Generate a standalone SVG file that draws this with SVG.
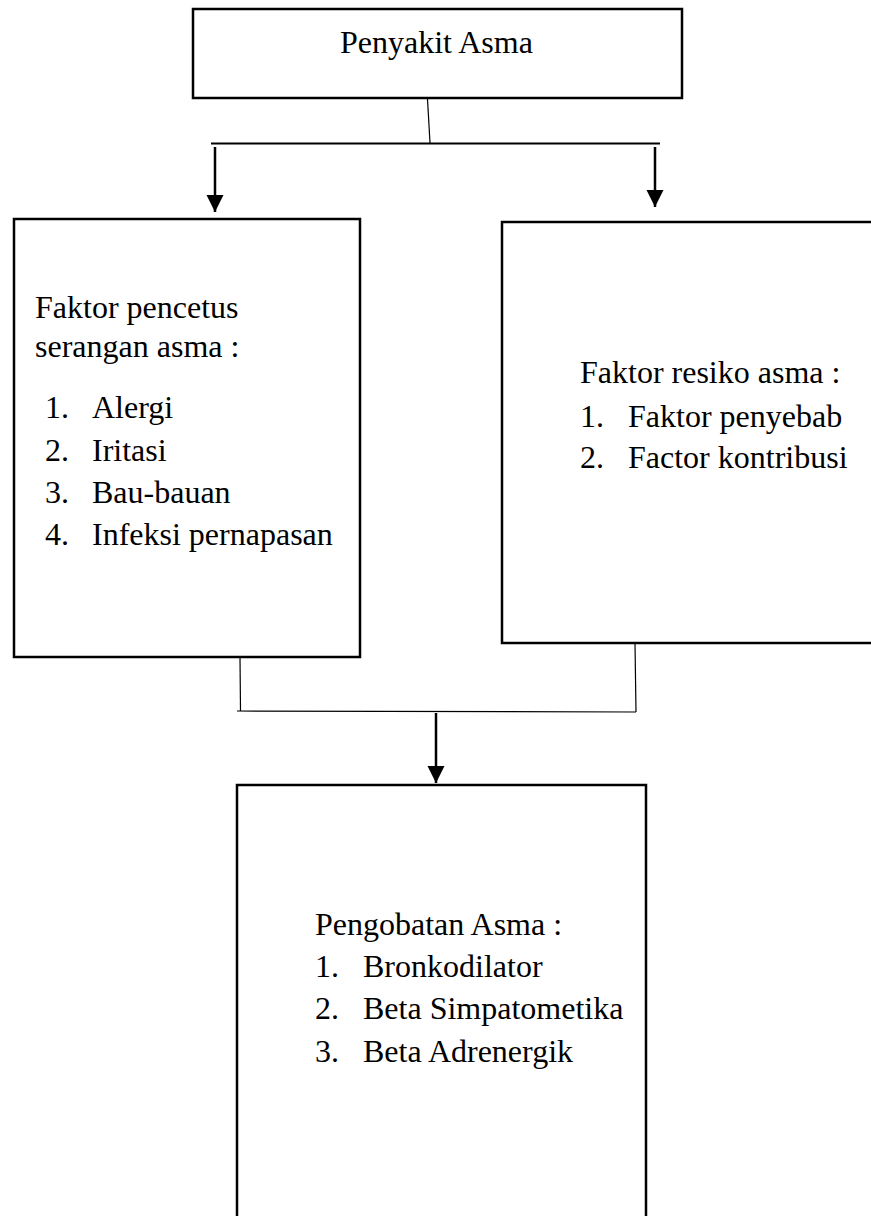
<svg xmlns="http://www.w3.org/2000/svg" width="871" height="1216" viewBox="0 0 871 1216">
<style>
.box{fill:#fff;stroke:#000;stroke-width:2.5}
.t{font-family:"Liberation Serif","Times New Roman",serif;font-size:32px;fill:#000}
.thin{stroke:#000;stroke-width:1.2;fill:none}
.arr{stroke:#000;stroke-width:2.5;fill:none;marker-end:url(#ah)}
</style>
<defs>
<marker id="ah" markerUnits="userSpaceOnUse" markerWidth="18" markerHeight="18" refX="17" refY="8.5" orient="auto" viewBox="0 0 18 18">
<path d="M0,0 L17,8.5 L0,17 z" fill="#000"/>
</marker>
</defs>
<rect width="871" height="1216" fill="#fff"/>
<g id="connectors">
<line class="thin" x1="427.5" y1="99" x2="430" y2="143"/>
<line x1="211" y1="143.5" x2="660" y2="143.5" stroke="#000" stroke-width="2"/>
<line class="arr" x1="215" y1="147" x2="215" y2="212"/>
<line class="arr" x1="655" y1="147" x2="655" y2="207"/>
<line class="thin" x1="240" y1="657" x2="240.5" y2="711"/>
<line class="thin" x1="635" y1="643" x2="636" y2="712"/>
<line class="thin" x1="237" y1="711" x2="636" y2="712"/>
<line class="arr" x1="436" y1="713" x2="436" y2="783"/>
</g>
<g id="node-penyakit">
<rect class="box" x="193" y="9" width="489" height="89"/>
<text class="t" x="340" y="53">Penyakit Asma</text>
</g>
<g id="node-pencetus">
<rect class="box" x="14" y="219" width="346" height="438"/>
<text class="t" x="35" y="318">Faktor pencetus</text>
<text class="t" x="35" y="357">serangan asma :</text>
<text class="t" x="45" y="418">1.</text><text class="t" x="92" y="418">Alergi</text>
<text class="t" x="45" y="461">2.</text><text class="t" x="92" y="461">Iritasi</text>
<text class="t" x="45" y="503">3.</text><text class="t" x="92" y="503">Bau-bauan</text>
<text class="t" x="45" y="545">4.</text><text class="t" x="92" y="545">Infeksi pernapasan</text>
</g>
<g id="node-resiko">
<rect class="box" x="502" y="222" width="380" height="421"/>
<text class="t" x="580" y="383">Faktor resiko asma :</text>
<text class="t" x="580" y="427">1.</text><text class="t" x="628" y="427">Faktor penyebab</text>
<text class="t" x="580" y="468">2.</text><text class="t" x="628" y="468">Factor kontribusi</text>
</g>
<g id="node-pengobatan">
<rect class="box" x="237" y="785" width="409" height="450"/>
<text class="t" x="315" y="935">Pengobatan Asma :</text>
<text class="t" x="315" y="977">1.</text><text class="t" x="363" y="977">Bronkodilator</text>
<text class="t" x="315" y="1019">2.</text><text class="t" x="363" y="1019">Beta Simpatometika</text>
<text class="t" x="315" y="1062">3.</text><text class="t" x="363" y="1062">Beta Adrenergik</text>
</g>
</svg>
